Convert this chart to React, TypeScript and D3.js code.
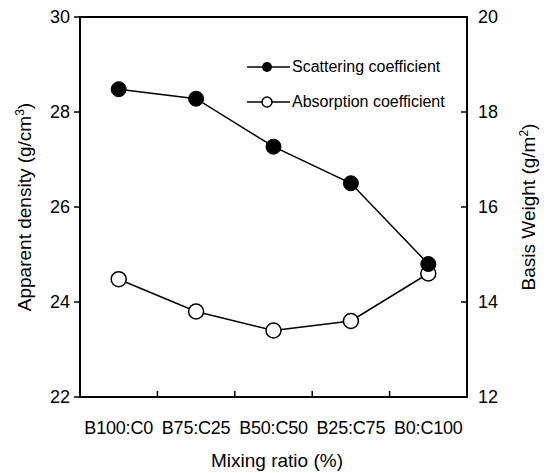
import React from "react";
import * as d3 from "d3";

const categories = ["B100:C0", "B75:C25", "B50:C50", "B25:C75", "B0:C100"];
const scattering = [28.48, 28.28, 27.27, 26.5, 24.8];
const absorption = [14.48, 13.8, 13.4, 13.6, 14.6];
const leftTicks = [22, 24, 26, 28, 30];
const rightTicks = [12, 14, 16, 18, 20];

const W = 550, H = 473;
const L = 80, R = 467, T = 17, B = 397;
const FONT = "Liberation Sans, Arial, sans-serif";

export default function App() {
  const x = d3.scaleBand<string>().domain(categories).range([L, R]);
  const yL = d3.scaleLinear().domain([22, 30]).range([B, T]);
  const yR = d3.scaleLinear().domain([12, 20]).range([B, T]);
  const cx = (c: string) => (x(c) as number) + x.bandwidth() / 2;
  const line = d3.line<[number, number]>().x(d => d[0]).y(d => d[1]);
  const sPts: [number, number][] = categories.map((c, i) => [cx(c), yL(scattering[i])]);
  const aPts: [number, number][] = categories.map((c, i) => [cx(c), yR(absorption[i])]);
  const boundaries = categories.slice(1).map(c => x(c) as number);

  return (
    <svg width={W} height={H} style={{ position: "absolute", left: 0, top: 0, background: "#fff" }} fontFamily={FONT}>
      <rect x={0} y={0} width={W} height={H} fill="#fff" />
      {/* frame */}
      <rect x={L} y={T} width={R - L} height={B - T} fill="none" stroke="#000" strokeWidth={2} />
      {/* left ticks */}
      {leftTicks.map(t => (
        <g key={"l" + t}>
          <line x1={L - 6} x2={L} y1={yL(t)} y2={yL(t)} stroke="#000" strokeWidth={1.5} />
          <text x={L - 10} y={yL(t)} dy="0.36em" textAnchor="end" fontSize={18}>{t}</text>
        </g>
      ))}
      {/* right ticks */}
      {rightTicks.map(t => (
        <g key={"r" + t}>
          <line x1={R - 6} x2={R} y1={yR(t)} y2={yR(t)} stroke="#000" strokeWidth={1.5} />
          <text x={R + 11} y={yR(t)} dy="0.36em" textAnchor="start" fontSize={18}>{t}</text>
        </g>
      ))}
      {/* x ticks */}
      {boundaries.map((b, i) => (
        <line key={"x" + i} x1={b} x2={b} y1={B} y2={B - 6} stroke="#000" strokeWidth={1.5} />
      ))}
      {categories.map(c => (
        <text key={c} x={cx(c)} y={434} textAnchor="middle" fontSize={18} letterSpacing={-0.2}>{c}</text>
      ))}
      {/* lines */}
      <path d={line(sPts) || ""} fill="none" stroke="#000" strokeWidth={1.5} />
      <path d={line(aPts) || ""} fill="none" stroke="#000" strokeWidth={1.5} />
      {aPts.map((p, i) => (
        <circle key={"a" + i} cx={p[0]} cy={p[1]} r={7.5} fill="#fff" stroke="#000" strokeWidth={1.5} />
      ))}
      {sPts.map((p, i) => (
        <circle key={"s" + i} cx={p[0]} cy={p[1]} r={7.5} fill="#000" stroke="#000" strokeWidth={1} />
      ))}
      {/* legend */}
      <line x1={247} x2={290} y1={67} y2={67} stroke="#000" strokeWidth={1.5} />
      <circle cx={267} cy={67} r={5} fill="#000" />
      <text x={292} y={72} fontSize={16}>Scattering coefficient</text>
      <line x1={247} x2={290} y1={102} y2={102} stroke="#000" strokeWidth={1.5} />
      <circle cx={267} cy={102} r={5} fill="#fff" stroke="#000" strokeWidth={1.5} />
      <text x={292} y={107} fontSize={16}>Absorption coefficient</text>
      {/* axis titles */}
      <text x={277} y={467} textAnchor="middle" fontSize={19}>Mixing ratio (%)</text>
      <text transform={`translate(24,${(T + B) / 2}) rotate(-90)`} textAnchor="middle" dy="0.36em" fontSize={19}>
        Apparent density (g/cm<tspan dy="-7" fontSize={12}>3</tspan><tspan dy="7">)</tspan>
      </text>
      <text transform={`translate(528,${(T + B) / 2}) rotate(-90)`} textAnchor="middle" dy="0.36em" fontSize={19}>
        Basis Weight (g/m<tspan dy="-7" fontSize={12}>2</tspan><tspan dy="7">)</tspan>
      </text>
    </svg>
  );
}
